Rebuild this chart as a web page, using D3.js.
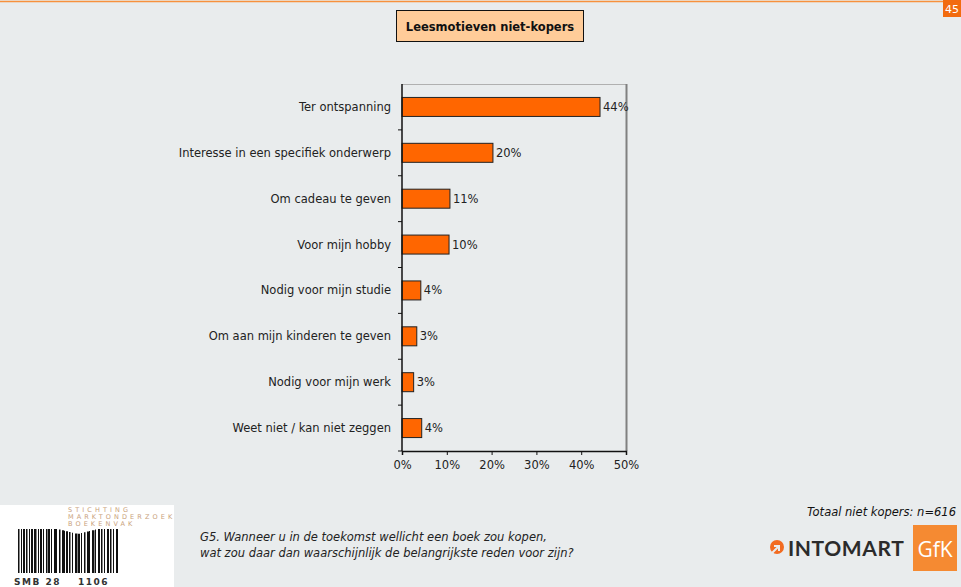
<!DOCTYPE html>
<html>
<head>
<meta charset="utf-8">
<script src="https://cdn.jsdelivr.net/npm/d3@7"></script>
<style>
  body { margin: 0; background: #e9eced; }
  svg { display: block; }
  text { font-family: "DejaVu Sans", Verdana, sans-serif; }
</style>
</head>
<body>
<svg id="chart" width="961" height="587"></svg>
<script>
// data
var categories = [
  "Ter ontspanning",
  "Interesse in een specifiek onderwerp",
  "Om cadeau te geven",
  "Voor mijn hobby",
  "Nodig voor mijn studie",
  "Om aan mijn kinderen te geven",
  "Nodig voor mijn werk",
  "Weet niet / kan niet zeggen"
];
var values = [44.2, 20.3, 10.7, 10.5, 4.2, 3.3, 2.6, 4.4];
var valueLabels = ["44%", "20%", "11%", "10%", "4%", "3%", "3%", "4%"];
var xTicks = [0, 10, 20, 30, 40, 50];

var title = "Leesmotieven niet-kopers";
var pageNo = "45";
var baseNote = "Totaal niet kopers: n=616";
var question = [
  "G5. Wanneer u in de toekomst wellicht een boek zou kopen,",
  "wat zou daar dan waarschijnlijk de belangrijkste reden voor zijn?"
];

(function() {
var svg = d3.select("#chart");
var fs = "11.5px";

// background + top rule
svg.append("rect")
  .attr("width",961).attr("height",587)
  .attr("fill","#e9eced");
svg.append("line")
  .attr("x1",0).attr("x2",961)
  .attr("y1",1.5).attr("y2",1.5)
  .attr("stroke","#f7913d")
  .attr("stroke-width",1.5);

// page number
svg.append("rect")
  .attr("x",943).attr("y",0)
  .attr("width",18).attr("height",17)
  .attr("fill","#f26b0f");
svg.append("text")
  .attr("x",952).attr("y",12.5)
  .attr("text-anchor","middle")
  .attr("fill","white")
  .style("font-size","11px")
  .text(pageNo);

// title box
svg.append("rect")
  .attr("x",396.5).attr("y",10.5)
  .attr("width",187).attr("height",31)
  .attr("fill","#ffcc99")
  .attr("stroke","#111")
  .attr("stroke-width",1);
svg.append("text")
  .attr("x",490).attr("y",31)
  .attr("text-anchor","middle")
  .style("font-size","11.5px")
  .style("font-weight","bold")
  .attr("fill","#111")
  .text(title);

// plot
var pLeft = 402, pRight = 626, pTop = 84, pBottom = 451;

var x = d3.scaleLinear()
  .domain([0, 50])
  .range([pLeft, pRight]);

var y = d3.scaleBand()
  .domain(categories)
  .range([pTop, pBottom]);

var barH = 19;

// frame (top light, right grey)
svg.append("line")
  .attr("x1",pLeft).attr("x2",pRight)
  .attr("y1",pTop+0.5).attr("y2",pTop+0.5)
  .attr("stroke","#b0b0b0").attr("stroke-width",1);
svg.append("line")
  .attr("x1",pRight+0.5).attr("x2",pRight+0.5)
  .attr("y1",pTop).attr("y2",pBottom)
  .attr("stroke","#808080").attr("stroke-width",2);

// bars
svg.append("g").selectAll("rect")
  .data(values)
  .enter().append("rect")
    .attr("x",x(0))
    .attr("y",function(d,i) { return y(categories[i]) + y.bandwidth()/2 - barH/2; })
    .attr("width",function(d) { return x(d) - x(0); })
    .attr("height",barH)
    .attr("fill","#ff6600")
    .attr("stroke","#222")
    .attr("stroke-width",1);

// value labels
svg.append("g").selectAll("text")
  .data(values)
  .enter().append("text")
    .attr("x",function(d) { return x(d) + 3; })
    .attr("y",function(d,i) { return y(categories[i]) + y.bandwidth()/2 + 4; })
    .style("font-size",fs)
    .attr("fill","#222")
    .text(function(d,i) { return valueLabels[i]; });

// category labels
svg.append("g").selectAll("text")
  .data(categories)
  .enter().append("text")
    .attr("x",pLeft - 11)
    .attr("y",function(d) { return y(d) + y.bandwidth()/2 + 4; })
    .attr("text-anchor","end")
    .style("font-size",fs)
    .attr("fill","#222")
    .text(function(d) { return d; });

// y axis line with ticks on band boundaries
var bounds = categories.map(function(c) { return y(c); }).concat([pBottom]);
svg.append("line")
  .attr("x1",pLeft).attr("x2",pLeft)
  .attr("y1",pTop).attr("y2",pBottom)
  .attr("stroke","#111").attr("stroke-width",1.5);
svg.append("g").selectAll("line")
  .data(bounds.slice(1))
  .enter().append("line")
    .attr("x1",pLeft-4).attr("x2",pLeft)
    .attr("y1",function(d) { return d; })
    .attr("y2",function(d) { return d; })
    .attr("stroke","#111");

// x axis
var xAxis = svg.append("g")
  .attr("transform","translate(0," + pBottom + ")")
  .call(d3.axisBottom(x)
    .tickValues(xTicks)
    .tickSize(4)
    .tickPadding(6)
    .tickFormat(function(d) { return d + "%"; }));
xAxis.select(".domain").attr("stroke","#111").attr("stroke-width",1.5);
xAxis.selectAll(".tick line").attr("stroke","#111");
xAxis.selectAll("text")
  .style("font-size",fs)
  .style("font-family","DejaVu Sans, Verdana, sans-serif")
  .attr("fill","#222");

// base note
svg.append("text")
  .attr("x",956).attr("y",516)
  .attr("text-anchor","end")
  .style("font-size",fs)
  .style("font-style","italic")
  .attr("fill","#111")
  .text(baseNote);

// question
svg.selectAll("text.q")
  .data(question)
  .enter().append("text")
    .attr("class","q")
    .attr("x",200)
    .attr("y",function(d,i) { return 541 + i*16; })
    .style("font-size",fs)
    .style("font-style","italic")
    .attr("fill","#222")
    .text(function(d) { return d; });

// SMB logo
var logo = svg.append("g");
logo.append("rect")
  .attr("x",0).attr("y",505)
  .attr("width",174).attr("height",82)
  .attr("fill","white");
["STICHTING","MARKTONDERZOEK","BOEKENVAK"].forEach(function(t,i) {
  logo.append("text")
    .attr("x",68).attr("y",512 + i*7)
    .style("font-size","6.5px")
    .style("letter-spacing","3.1px")
    .attr("fill","#c9a27c")
    .text(t);
});
var barsX = [18,21,23,26,29,31,34,38,40,43,46,48,51,54,56,59,62,64,66,69,72,75,78,81,84,87,89,92,95,98,101,104,107,110,113,116];
var barsW = [1.5,1,2,1.5,1,2,2.5,1,2,1,1.5,2,1,2.5,1,1.5,2,1,2,1.5,1,2.5,2,1,1.5,2,1,2.5,1,2,1.5,1,2,1.5,1,2];
barsX.forEach(function(bx,i) {
  var dip = (bx > 58 && bx < 96) ? 5 - Math.abs(bx-77)/4 : 0;
  logo.append("rect")
    .attr("x",bx).attr("y",529 + Math.max(dip,0))
    .attr("width",barsW[i])
    .attr("height",44 - Math.max(dip,0))
    .attr("fill","#111");
});
logo.append("rect")
  .attr("x",12).attr("y",575).attr("width",110).attr("height",12)
  .attr("fill","white");
logo.append("text")
  .attr("x",14).attr("y",585)
  .style("font-size","9px")
  .style("font-weight","bold")
  .style("letter-spacing","1.5px")
  .attr("fill","#333")
  .text("SMB 28");
logo.append("text")
  .attr("x",78).attr("y",585)
  .style("font-size","9px")
  .style("font-weight","bold")
  .style("letter-spacing","1.5px")
  .attr("fill","#333")
  .text("1106");

// Intomart GfK logo
var gl = svg.append("g");
gl.append("circle")
  .attr("cx",777).attr("cy",547).attr("r",7)
  .attr("fill","#f26b21");
gl.append("path")
  .attr("d","M 771,554 l 7,-7 m -4,-1 h 5 v 5")
  .attr("stroke","#e9eced").attr("stroke-width",2).attr("fill","none");
gl.append("text")
  .attr("x",788).attr("y",556)
  .style("font-size","21px")
  .style("font-weight","bold")
  .style("letter-spacing","0.6px")
  .style("font-family","Lato, sans-serif")
  .attr("fill","#2b2b2b")
  .text("INTOMART");
gl.append("rect")
  .attr("x",913).attr("y",525)
  .attr("width",44).attr("height",46)
  .attr("fill","#f58a32");
gl.append("text")
  .attr("x",935).attr("y",557)
  .attr("text-anchor","middle")
  .style("font-size","21px")
  .attr("fill","white")
  .style("font-family","Open Sans, sans-serif")
  .text("GfK");
})();
</script>
</body>
</html>
